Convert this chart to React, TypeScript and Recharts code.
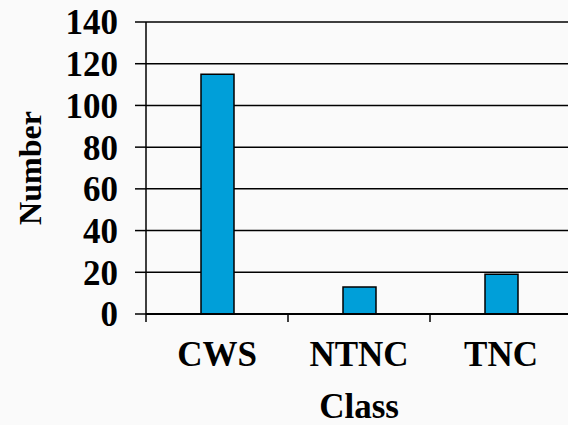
import { BarChart, Bar, XAxis, YAxis, CartesianGrid } from 'recharts'

const classes = ['CWS', 'NTNC', 'TNC']
const counts = [115, 13, 19]
const yTicks = [0, 20, 40, 60, 80, 100, 120, 140]

const data = classes.map((name, i) => ({ name, value: counts[i] }))

const FONT = "'Times New Roman', Times, 'Liberation Serif', serif"

function ClassTick(props: any) {
  const { x, y, payload } = props
  const half = payload && payload.offset ? payload.offset : 71
  return (
    <g>
      <line x1={x - half} x2={x - half} y1={y - 27} y2={y - 19} stroke="#000" strokeWidth={1.5} />
      <text
        x={x}
        y={y}
        dy="0.71em"
        textAnchor="middle"
        fontFamily={FONT}
        fontWeight={700}
        fontSize={35}
        fill="#000"
      >
        {payload.value}
      </text>
    </g>
  )
}

function ValueTick(props: any) {
  const { x, y, payload } = props
  return (
    <text
      x={x}
      y={y}
      dy="0.355em"
      textAnchor="end"
      fontFamily={FONT}
      fontWeight={700}
      fontSize={35}
      fill="#000"
    >
      {payload.value}
    </text>
  )
}

function NumberLabel(props: any) {
  const { viewBox } = props
  const cx = 30
  const cy = viewBox.y + viewBox.height / 2
  return (
    <text
      x={cx}
      y={cy}
      transform={`rotate(-90, ${cx}, ${cy})`}
      textAnchor="middle"
      dominantBaseline="central"
      fontFamily={FONT}
      fontWeight={700}
      fontSize={32}
      fill="#000"
    >
      Number
    </text>
  )
}

function ClassLabel(props: any) {
  const { viewBox } = props
  return (
    <text
      x={viewBox.x + viewBox.width / 2}
      y={418}
      textAnchor="middle"
      fontFamily={FONT}
      fontWeight={700}
      fontSize={35}
      fill="#000"
    >
      Class
    </text>
  )
}

export default function App() {
  return (
    <div
      style={{
        position: 'absolute',
        left: 0,
        top: 0,
        width: 568,
        height: 425,
        overflow: 'hidden',
        background: '#fafafa',
      }}
    >
      <BarChart
        width={580}
        height={425}
        data={data}
        margin={{ top: 22, right: 8, bottom: 0, left: 0 }}
      >
        <CartesianGrid vertical={false} stroke="#000" strokeWidth={1.5} />
        <XAxis
          dataKey="name"
          height={111}
          axisLine={{ stroke: '#000', strokeWidth: 2 }}
          tickLine={false}
          tickSize={8}
          tickMargin={19}
          tick={<ClassTick />}
          interval={0}
          label={<ClassLabel />}
        />
        <YAxis
          width={146}
          domain={[0, 140]}
          ticks={yTicks}
          interval={0}
          axisLine={{ stroke: '#000', strokeWidth: 1.5 }}
          tickLine={{ stroke: '#000', strokeWidth: 1.5 }}
          tickSize={11}
          tickMargin={17}
          tick={<ValueTick />}
          label={<NumberLabel />}
        />
        <Bar
          dataKey="value"
          fill="#009fd9"
          stroke="#000"
          strokeWidth={1.5}
          barSize={33}
          isAnimationActive={false}
        />
      </BarChart>
    </div>
  )
}
